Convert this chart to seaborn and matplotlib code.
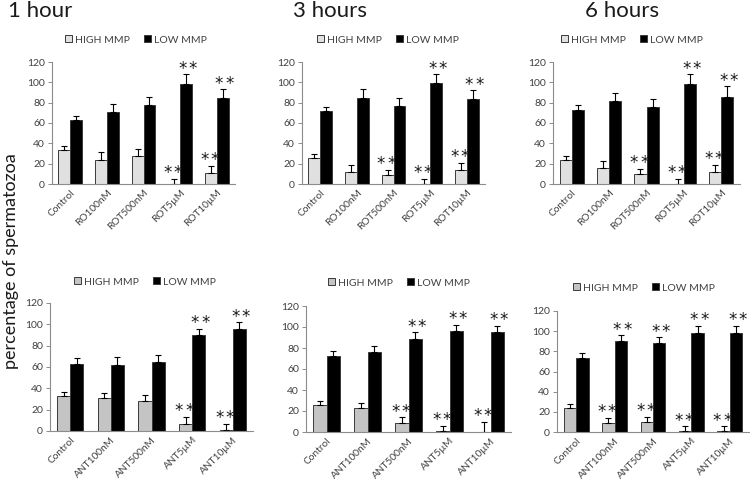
import matplotlib
matplotlib.use("Agg")
import matplotlib.pyplot as plt
import seaborn as sns
import pandas as pd
import numpy as np

# ---------------- data ----------------
cats_rot = ["Control", "RO100nM", "ROT500nM", "ROT5µM", "ROT10µM"]
cats_ant = ["Control", "ANT100nM", "ANT500nM", "ANT5µM", "ANT10µM"]
series = ["HIGH MMP", "LOW MMP"]
titles = ["1 hour", "3 hours", "6 hours"]

# ROT (top row)
high_rot_1h = [33, 24, 28, 0, 11]
high_rot_1h_err = [4, 7, 6, 5, 7]
low_rot_1h = [63, 71, 78, 98, 85]
low_rot_1h_err = [4, 8, 8, 10, 8]
sig_high_rot_1h = [0, 0, 0, 1, 1]
sig_low_rot_1h = [0, 0, 0, 1, 1]

high_rot_3h = [26, 12, 9, 0, 14]
high_rot_3h_err = [4, 7, 5, 5, 7]
low_rot_3h = [72, 85, 77, 99, 84]
low_rot_3h_err = [4, 8, 8, 9, 8]
sig_high_rot_3h = [0, 0, 1, 1, 1]
sig_low_rot_3h = [0, 0, 0, 1, 1]

high_rot_6h = [24, 16, 10, 0, 12]
high_rot_6h_err = [4, 7, 5, 5, 7]
low_rot_6h = [73, 82, 76, 98, 86]
low_rot_6h_err = [5, 8, 8, 10, 10]
sig_high_rot_6h = [0, 0, 1, 1, 1]
sig_low_rot_6h = [0, 0, 0, 1, 1]

# ANT (bottom row)
high_ant_1h = [33, 31, 28, 7, 1]
high_ant_1h_err = [4, 5, 6, 6, 6]
low_ant_1h = [63, 62, 65, 90, 96]
low_ant_1h_err = [5, 7, 6, 6, 6]
sig_high_ant_1h = [0, 0, 0, 1, 1]
sig_low_ant_1h = [0, 0, 0, 1, 1]

high_ant_3h = [26, 23, 9, 1, 0]
high_ant_3h_err = [4, 5, 5, 5, 10]
low_ant_3h = [72, 76, 89, 96, 95]
low_ant_3h_err = [5, 6, 6, 6, 6]
sig_high_ant_3h = [0, 0, 1, 1, 1]
sig_low_ant_3h = [0, 0, 1, 1, 1]

high_ant_6h = [24, 9, 10, 0.5, 0.5]
high_ant_6h_err = [4, 5, 5, 5, 5]
low_ant_6h = [73, 90, 88, 98, 98]
low_ant_6h_err = [5, 6, 6, 7, 7]
sig_high_ant_6h = [0, 1, 1, 1, 1]
sig_low_ant_6h = [0, 1, 1, 1, 1]

yticks = [0, 20, 40, 60, 80, 100, 120]

# ---------------- style ----------------
sns.set_theme(style="white")
plt.rcParams["font.family"] = ["Lato", "DejaVu Sans"]

W, H = 750, 482
fig = plt.figure(figsize=(7.5, 4.82), dpi=100)

def px_axes(x0, x1, ytop, ybot):
    return fig.add_axes([x0 / W, 1 - ybot / H, (x1 - x0) / W, (ybot - ytop) / H])

panels = [
    (cats_rot, high_rot_1h, high_rot_1h_err, low_rot_1h, low_rot_1h_err, sig_high_rot_1h, sig_low_rot_1h, (52, 235, 62, 184), "#e0e0e0", 40, 136),
    (cats_rot, high_rot_3h, high_rot_3h_err, low_rot_3h, low_rot_3h_err, sig_high_rot_3h, sig_low_rot_3h, (302, 485, 62, 184), "#e0e0e0", 40, 388),
    (cats_rot, high_rot_6h, high_rot_6h_err, low_rot_6h, low_rot_6h_err, sig_high_rot_6h, sig_low_rot_6h, (553, 740, 62, 184), "#e0e0e0", 40, 632),
    (cats_ant, high_ant_1h, high_ant_1h_err, low_ant_1h, low_ant_1h_err, sig_high_ant_1h, sig_low_ant_1h, (50, 253, 303, 431), "#c4c4c4", 282, 145),
    (cats_ant, high_ant_3h, high_ant_3h_err, low_ant_3h, low_ant_3h_err, sig_high_ant_3h, sig_low_ant_3h, (306, 511, 306, 432), "#c4c4c4", 283, 399),
    (cats_ant, high_ant_6h, high_ant_6h_err, low_ant_6h, low_ant_6h_err, sig_high_ant_6h, sig_low_ant_6h, (557, 749, 311, 432), "#c4c4c4", 288, 644),
]

axis_col = "#8c8c8c"
text_col = "#404040"

for cats, hi, hie, lo, loe, sh, sl, rect, gray, leg_y, leg_x in panels:
    ax = px_axes(rect[0], rect[1], rect[2], rect[3])
    df = pd.DataFrame({
        "cat": cats + cats,
        "series": [series[0]] * len(cats) + [series[1]] * len(cats),
        "val": list(hi) + list(lo),
    })
    sns.barplot(data=df, x="cat", y="val", hue="series", order=cats, hue_order=series,
                palette=[gray, "#000000"], width=0.65, errorbar=None,
                edgecolor="#3a3a3a", linewidth=0.7, ax=ax, legend=True)

    for k, (cont, vals, errs, sigs) in enumerate(zip(ax.containers[:2], [hi, lo], [hie, loe], [sh, sl])):
        shift = -1.0 if k == 0 else 1.0
        for bar, v, e, s in zip(cont.patches, vals, errs, sigs):
            xc = bar.get_x() + bar.get_width() / 2
            ax.errorbar([xc], [v], yerr=[[0], [e]], fmt="none", ecolor="black",
                        elinewidth=0.8, capsize=2.3, capthick=0.8)
            if s:
                for dx in (-3.7, 3.7):
                    ax.annotate("*", xy=(xc, v + e), xytext=(dx + shift, 0.5),
                                textcoords="offset points", ha="center", va="baseline",
                                fontsize=12, color="#1a1a1a", family="DejaVu Sans",
                                zorder=5)

    ax.set_ylim(0, 120)
    ax.set_xlim(-0.5, len(cats) - 0.5)
    ax.set_yticks(yticks)
    ax.set_yticklabels([str(t) for t in yticks], fontsize=7.5, color=text_col)
    ax.set_xticks(range(len(cats)))
    ax.set_xticklabels(cats, rotation=45, ha="right", rotation_mode="anchor",
                       fontsize=7.3, color=text_col)
    ax.set_xticks(np.arange(-0.5, len(cats), 1.0), minor=True)
    ax.tick_params(axis="x", which="major", length=0, pad=3)
    ax.tick_params(axis="x", which="minor", length=3.5, width=0.7, color=axis_col, direction="out")
    ax.tick_params(axis="y", length=3, width=0.7, color=axis_col, direction="out", pad=2, left=True)
    ax.set_xlabel("")
    ax.set_ylabel("")
    for side in ["top", "right"]:
        ax.spines[side].set_visible(False)
    for side in ["left", "bottom"]:
        ax.spines[side].set_color(axis_col)
        ax.spines[side].set_linewidth(0.8)

    handles, labels = ax.get_legend_handles_labels()
    ax.legend(handles, labels, loc="center", ncol=2, frameon=False,
              bbox_to_anchor=(leg_x / W, 1 - leg_y / H), bbox_transform=fig.transFigure,
              fontsize=7.5, handlelength=0.65, handleheight=0.65, handletextpad=0.25,
              columnspacing=1.4, labelcolor=text_col)

# titles
fig.text(8 / W, 1 - 1 / H, titles[0], fontsize=16, ha="left", va="top", color="#1a1a1a")
fig.text(330 / W, 1 - 1 / H, titles[1], fontsize=16, ha="center", va="top", color="#1a1a1a")
fig.text(622 / W, 1 - 1 / H, titles[2], fontsize=16, ha="center", va="top", color="#1a1a1a")

# shared y label
fig.text(11 / W, 1 - 261 / H, "percentage of spermatozoa", rotation=90, fontsize=13,
         ha="center", va="center", color="#1a1a1a")

fig.savefig("out.png", dpi=100)
